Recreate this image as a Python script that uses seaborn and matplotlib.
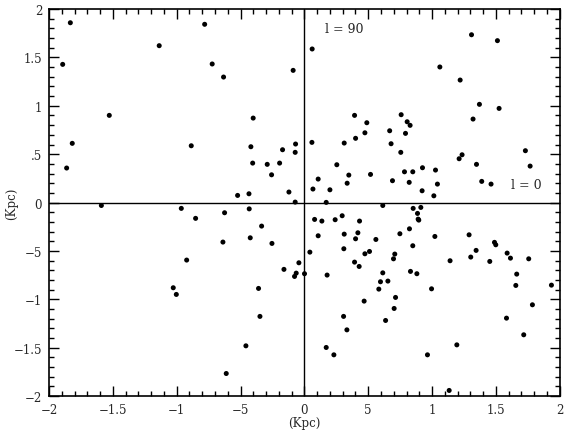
import numpy as np
import pandas as pd
import matplotlib
matplotlib.use("Agg")
import matplotlib.pyplot as plt
from matplotlib.ticker import MultipleLocator, FixedLocator, FixedFormatter
import seaborn as sns

sns.set_style("ticks")
plt.rcParams['font.family'] = ['DejaVu Serif', 'Liberation Serif']
plt.rcParams['font.size'] = 8.5

# positions (Kpc)
x_kpc = [-1.833, -1.893, -1.137, -1.528, -1.818, -1.862, -0.886, -1.590, -0.964, -0.781,
         -0.722, -0.633, -0.088, 0.061, -0.401, -0.419, -0.405, -0.291, -0.257, -0.194,
         -0.171, -0.069, -0.072, 0.059, -0.523, -0.434, -0.121, -0.072, -0.432, 0.393,
         0.489, 0.474, 0.401, 0.312, 0.668, 0.254, 0.348, 0.518, 0.335, 0.108,
         0.067, 0.200, 0.171, 0.614, 1.309, 1.512, 1.061, 1.220, 1.371, 1.525,
         1.321, 0.758, 0.805, 0.828, 0.792, 0.679, 0.755, 1.212, 1.235, 1.348,
         1.731, 1.768, 0.690, 0.784, 0.849, 0.925, 0.821, 0.922, 1.027, 1.042,
         1.014, 1.389, 1.462, 0.852, 0.912, -0.852, -0.922, -1.027, -1.003, -0.625,
         -0.335, -0.638, -0.424, -0.254, -0.160, -0.043, -0.064, -0.077, 0.001, -0.359,
         -0.348, -0.458, -0.612, 0.080, 0.137, 0.241, 0.296, 0.432, 0.108, 0.312,
         0.419, 0.401, 0.560, 0.043, 0.309, 0.474, 0.510, 0.393, 0.429, 0.178,
         0.614, 0.596, 0.654, 0.583, 0.468, 0.636, 0.307, 0.333, 0.171, 0.231,
         0.886, 0.891, 0.896, 0.748, 0.823, 0.849, 0.698, 0.708, 0.831, 0.881,
         0.714, 0.703, 1.022, 0.996, 0.964, 1.141, 1.194, 1.134, 1.290, 1.303,
         1.345, 1.452, 1.489, 1.499, 1.588, 1.614, 1.757, 1.663, 1.656, 1.583,
         1.786, 1.718, 1.935]
y_kpc = [1.858, 1.428, 1.621, 0.901, 0.612, 0.357, 0.587, -0.030, -0.060, 1.842,
         1.432, 1.297, 1.366, 1.587, 0.873, 0.577, 0.408, 0.395, 0.287, 0.408,
         0.546, 0.605, 0.519, 0.622, 0.074, 0.091, 0.109, 0.005, -0.065, 0.901,
         0.825, 0.721, 0.664, 0.615, 0.742, 0.391, 0.284, 0.291, 0.200, 0.243,
         0.140, 0.132, 0.002, -0.030, 1.734, 1.673, 1.401, 1.266, 1.015, 0.973,
         0.863, 0.908, 0.835, 0.798, 0.715, 0.608, 0.519, 0.453, 0.494, 0.395,
         0.536, 0.377, 0.226, 0.318, 0.318, 0.360, 0.209, 0.122, 0.336, 0.191,
         0.070, 0.219, 0.191, -0.060, -0.050, -0.163, -0.594, -0.880, -0.949, -0.105,
         -0.243, -0.408, -0.364, -0.422, -0.690, -0.622, -0.729, -0.763, -0.735, -0.887,
         -1.176, -1.480, -1.766, -0.174, -0.191, -0.177, -0.136, -0.191, -0.343, -0.326,
         -0.312, -0.374, -0.381, -0.512, -0.477, -0.529, -0.505, -0.615, -0.660, -0.749,
         -0.726, -0.818, -0.811, -0.894, -1.018, -1.218, -1.176, -1.315, -1.497, -1.573,
         -0.112, -0.171, -0.181, -0.322, -0.271, -0.446, -0.581, -0.532, -0.711, -0.735,
         -0.980, -1.094, -0.350, -0.891, -1.573, -0.601, -1.470, -1.941, -0.333, -0.563,
         -0.494, -0.608, -0.411, -0.436, -0.522, -0.574, -0.581, -0.739, -0.856, -1.194,
         -1.056, -1.366, -0.853]

major_ticks = [-2, -1.5, -1, -0.5, 0, 0.5, 1, 1.5, 2]
x_ticklabels = ['\u22122', '\u22121.5', '\u22121', '\u22125', '0', '5', '1', '1.5', '2']
y_ticklabels = ['\u22122', '\u22121.5', '\u22121', '\u22125', '0', '.5', '1', '1.5', '2']

df = pd.DataFrame({'x': x_kpc, 'y': y_kpc})

fig = plt.figure(figsize=(5.7, 4.35), dpi=100)
ax = fig.add_axes([0.086, 0.087, 0.896, 0.89])
sns.scatterplot(data=df, x='x', y='y', ax=ax, color='black', s=13,
                edgecolor='none', linewidth=0)

# galactic axes through the origin
ax.axhline(0, color='black', lw=1.0)
ax.axvline(0, color='black', lw=1.0)

ax.set_xlim(-2, 2)
ax.set_ylim(-2, 2)
ax.xaxis.set_major_locator(FixedLocator(major_ticks))
ax.yaxis.set_major_locator(FixedLocator(major_ticks))
ax.xaxis.set_major_formatter(FixedFormatter(x_ticklabels))
ax.yaxis.set_major_formatter(FixedFormatter(y_ticklabels))
ax.xaxis.set_minor_locator(MultipleLocator(0.1))
ax.yaxis.set_minor_locator(MultipleLocator(0.1))
ax.tick_params(which='both', direction='in', top=True, right=True,
               color='black', width=1.0)
ax.tick_params(which='major', length=7.5, labelsize=8.5, pad=5)
ax.tick_params(which='minor', length=3.8)
for sp in ax.spines.values():
    sp.set_color('black')
    sp.set_linewidth(1.2)

ax.set_xlabel('(Kpc)', fontsize=8.5, labelpad=0)
ax.set_ylabel('(Kpc)', fontsize=8.5, va='center')
ax.yaxis.set_label_coords(-0.074, 0.5)

ax.text(0.16, 1.8, 'l = 90', fontsize=9, va='center', ha='left')
ax.text(1.62, 0.19, 'l = 0', fontsize=9, va='center', ha='left')

fig.savefig('out.png', dpi=100)
